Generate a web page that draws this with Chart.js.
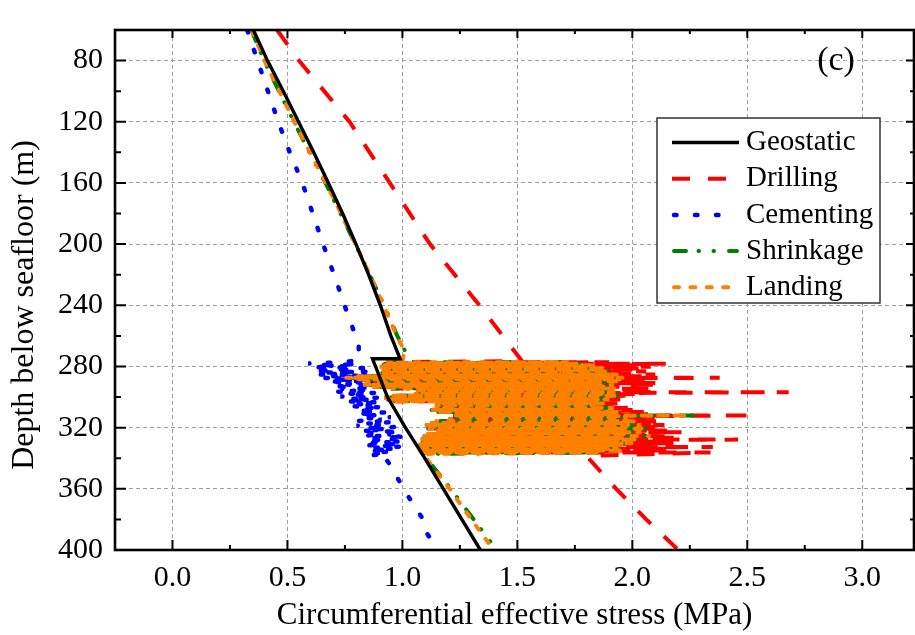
<!DOCTYPE html>
<html>
<head>
<meta charset="utf-8">
<script src="https://cdn.jsdelivr.net/npm/chart.js@4.4.0/dist/chart.umd.min.js"></script>
<style>
  html, body { margin: 0; padding: 0; background: #fff; overflow: hidden; }
  #wrap { width: 915px; height: 635px; }
</style>
</head>
<body>
<div id="wrap"><canvas id="chart" width="915" height="635"></canvas></div>
<script>
const SERIF = '"Liberation Serif", "Times New Roman", serif';
const Y_TITLE = 'Depth below seafloor (m)';

const X_TICKS = [0, 0.5, 1.0, 1.5, 2.0, 2.5, 3.0];
const X_MINOR = [0.25, 0.75, 1.25, 1.75, 2.25, 2.75];
const Y_TICKS = [80, 120, 160, 200, 240, 280, 320, 360, 400];
const Y_MINOR = [100, 140, 180, 220, 260, 300, 340, 380];

// Geostatic: smooth profile with a step at ~275 m
const GEO_DEPTH = [60, 80, 100, 120, 140, 160, 180, 200, 220, 240, 260, 275, 275, 300, 320, 337, 360, 400];
const GEO_STRESS = [0.352, 0.413, 0.482, 0.548, 0.614, 0.678, 0.740, 0.798, 0.853, 0.904, 0.950, 0.99,
  0.87, 0.935, 1.013, 1.085, 1.178, 1.339];

// upper / lower branches of the other states
const DRILL_DEPTH_TOP = [60, 80, 120, 160, 200, 240, 276.5];
const DRILL_STRESS_TOP = [0.455, 0.55, 0.77, 0.945, 1.12, 1.335, 1.52];
const DRILL_DEPTH_BOT = [338.5, 360, 380, 400];
const DRILL_STRESS_BOT = [1.80, 1.93, 2.06, 2.20];

const LAND_DEPTH_TOP = [60, 80, 100, 120, 140, 160, 180, 200, 220, 240, 260, 270, 276.2];
const LAND_STRESS_TOP = [0.345, 0.40, 0.465, 0.53, 0.598, 0.667, 0.733, 0.796, 0.858, 0.918, 0.975, 1.01, 1.00];
const LAND_DEPTH_BOT = [337.2, 360, 380, 400];
const LAND_STRESS_BOT = [1.09, 1.205, 1.30, 1.396];

const SHRINK_STRESS_TOP = [0.343, 0.398, 0.463, 0.528, 0.596, 0.665, 0.731, 0.795, 0.858, 0.92, 0.978, 1.012, 1.00];
const SHRINK_STRESS_BOT = [1.09, 1.21, 1.31, 1.41];

// hydrate layer (277-337 m): oscillating values, left/right turning points
const ZIG_DEPTH = [277.2, 278.2, 279.2, 280.2, 281.2, 282.2, 283.2, 284.2, 285.2, 286.4,
  287.4, 288.4, 289.6, 290.8, 292.0, 293.2, 294.4, 295.6, 296.8, 298.0,
  299.2, 300.4, 301.6, 302.8, 304.2, 305.6, 307.0, 308.4, 309.8, 311.2,
  312.0, 313.2, 314.4, 315.8, 317.0, 318.2, 319.4, 320.6, 321.8, 323.0,
  324.2, 325.4, 326.6, 327.8, 329.0, 330.2, 331.4, 332.6, 333.8, 335.0, 336.2];
const ZIG_LEFT = [0.93, 0.92, 0.91, 0.90, 0.92, 0.91, 0.92, 0.90, 0.93, 0.80,
  0.75, 0.79, 0.84, 0.88, 0.83, 0.87, 0.95, 1.06, 1.08, 1.05,
  0.95, 0.92, 0.93, 0.96, 1.16, 1.14, 1.16, 1.12, 1.15, 1.24,
  1.22, 1.24, 1.20, 1.14, 1.12, 1.10, 1.12, 1.11, 1.15, 1.16,
  1.10, 1.09, 1.10, 1.08, 1.09, 1.08, 1.07, 1.08, 1.06, 1.07, 1.08];
const LAND_RIGHT = [1.72, 1.78, 1.84, 1.80, 1.88, 1.84, 1.90, 1.86, 1.94, 1.88,
  1.96, 1.90, 1.95, 1.86, 1.92, 1.88, 1.93, 1.86, 1.92, 1.88,
  1.94, 1.84, 1.90, 1.82, 1.88, 1.84, 1.92, 1.86, 1.94, 1.90,
  2.24, 1.98, 1.92, 2.02, 1.96, 2.04, 1.98, 2.06, 1.96, 2.04,
  1.98, 2.08, 1.96, 2.02, 1.94, 2.00, 1.96, 1.94, 1.90, 1.96, 1.86];
const SHRINK_RIGHT = [1.70, 1.78, 1.82, 1.80, 1.86, 1.84, 1.90, 1.86, 1.92, 1.88,
  1.96, 1.90, 1.94, 1.86, 1.92, 1.88, 1.92, 1.86, 1.92, 1.88,
  1.94, 1.84, 1.90, 1.82, 1.88, 1.84, 1.92, 1.86, 1.94, 1.90,
  2.27, 1.98, 1.92, 2.02, 1.96, 2.04, 1.98, 2.06, 1.96, 2.04,
  1.98, 2.08, 1.96, 2.02, 1.94, 2.00, 1.96, 1.94, 1.90, 1.96, 1.86];
const DRILL_RIGHT = [1.90, 2.15, 2.02, 2.08, 2.05, 2.00, 2.06, 2.02, 2.10, 2.05,
  2.38, 2.08, 2.04, 2.10, 2.12, 2.05, 2.09, 2.08, 2.68, 2.02,
  1.97, 1.95, 1.98, 1.94, 1.96, 1.93, 1.98, 2.00, 2.05, 2.08,
  2.53, 2.10, 2.06, 2.12, 2.08, 2.14, 2.10, 2.12, 2.15, 2.22,
  2.12, 2.16, 2.18, 2.46, 2.15, 2.20, 2.12, 2.35, 2.18, 2.14, 2.34];

// Cementing: full profile, scattered inside the layer
const CEM_DEPTH = [60, 80, 100, 120, 140, 160, 180, 200, 226, 240, 253, 267, 276,
  277.4, 278.0, 278.6, 279.2, 279.8, 280.4, 281.0, 281.6, 282.2, 282.8,
  283.4, 284.0, 284.6, 285.2, 285.8, 286.4, 287.0, 287.6, 288.2, 288.8,
  289.4, 290.0, 290.8, 291.6, 292.4, 293.2, 294.0, 294.8, 295.6, 296.4,
  297.2, 298.0, 298.8, 299.6, 300.4, 301.2, 302.0, 302.8, 303.6, 304.4,
  305.2, 306.0, 306.8, 307.6, 308.4, 309.2, 310.0, 310.8, 311.6, 312.4,
  313.2, 314.0, 314.8, 315.6, 316.4, 317.2, 318.0, 318.8, 319.6, 320.4,
  321.2, 322.0, 322.8, 323.6, 324.4, 325.2, 326.0, 326.8, 327.6, 328.4,
  329.2, 330.0, 330.8, 331.6, 332.4, 333.2, 334.0, 334.8, 335.6, 336.4,
  337.2, 338.0, 338.8,
  345, 352, 366, 380, 390, 400];
const CEM_STRESS = [0.325, 0.37, 0.415, 0.46, 0.51, 0.565, 0.61, 0.655, 0.717, 0.748, 0.78, 0.81, 0.81,
  0.72, 0.59, 0.81, 0.63, 0.76, 0.60, 0.83, 0.65, 0.79, 0.61,
  0.85, 0.67, 0.77, 0.63, 0.86, 0.69, 0.81, 0.65, 0.87, 0.71,
  0.83, 0.67, 0.88, 0.72, 0.84, 0.69, 0.87, 0.73, 0.85, 0.71,
  0.89, 0.75, 0.86, 0.73, 0.90, 0.77, 0.87, 0.75, 0.91, 0.79,
  0.88, 0.78, 0.92, 0.81, 0.89, 0.80, 0.93, 0.83, 0.90, 0.82,
  0.95, 0.84, 0.91, 0.81, 0.96, 0.85, 0.92, 0.80, 0.97, 0.84,
  0.94, 0.82, 0.99, 0.86, 0.95, 0.83, 1.02, 0.87, 0.97, 0.84,
  1.00, 0.86, 0.96, 0.85, 1.00, 0.87, 0.97, 0.85, 0.95, 0.86,
  0.93, 0.87, 0.92,
  0.95, 0.975, 1.03, 1.09, 1.11, 1.16];

function pts(depth, stress) {
  return depth.map((d, i) => ({ x: stress[i], y: d }));
}
function zig(left, right) {
  const out = [];
  ZIG_DEPTH.forEach((d, i) => {
    out.push({ x: left[i], y: d }, { x: right[i], y: d });
  });
  return out;
}

const datasets = [
  {
    label: 'Geostatic',
    data: pts(GEO_DEPTH, GEO_STRESS),
    borderColor: '#000000', borderWidth: 3.4, borderDash: [],
    borderCapStyle: 'butt', order: 0,
  },
  {
    label: 'Drilling',
    data: [...pts(DRILL_DEPTH_TOP, DRILL_STRESS_TOP), ...zig(ZIG_LEFT, DRILL_RIGHT), ...pts(DRILL_DEPTH_BOT, DRILL_STRESS_BOT)],
    borderColor: '#ff0000', borderWidth: 4, borderDash: [18, 18],
    borderCapStyle: 'butt', order: 4,
  },
  {
    label: 'Cementing',
    data: pts(CEM_DEPTH, CEM_STRESS),
    borderColor: '#0000ff', borderWidth: 4.5, borderDash: [2.5, 18.5],
    borderCapStyle: 'round', order: 3,
  },
  {
    label: 'Shrinkage',
    data: [...pts(LAND_DEPTH_TOP, SHRINK_STRESS_TOP), ...zig(ZIG_LEFT, SHRINK_RIGHT), ...pts(LAND_DEPTH_BOT, SHRINK_STRESS_BOT)],
    borderColor: '#008000', borderWidth: 4, borderDash: [12, 12.5, 0.5, 14.5, 0.5, 15],
    borderCapStyle: 'round', order: 2,
  },
  {
    label: 'Landing',
    data: [...pts(LAND_DEPTH_TOP, LAND_STRESS_TOP), ...zig(ZIG_LEFT, LAND_RIGHT), ...pts(LAND_DEPTH_BOT, LAND_STRESS_BOT)],
    borderColor: '#ff8000', borderWidth: 4, borderDash: [5, 11.4],
    borderCapStyle: 'round', order: 1,
  },
];

// frame with inward ticks, legend box, y title and panel tag
const framePlugin = {
  id: 'framePlugin',
  afterDraw(chart) {
    const { ctx, chartArea: a, scales: { x, y } } = chart;
    ctx.save();
    ctx.strokeStyle = '#000';
    ctx.lineWidth = 2;
    ctx.setLineDash([]);
    ctx.beginPath();
    const xt = (vals, len, lenTop) => vals.forEach(v => {
      const px = x.getPixelForValue(v);
      ctx.moveTo(px, a.bottom); ctx.lineTo(px, a.bottom - len);
      ctx.moveTo(px, a.top); ctx.lineTo(px, a.top + lenTop);
    });
    const yt = (vals, len, lenRight) => vals.forEach(v => {
      const py = y.getPixelForValue(v);
      ctx.moveTo(a.left, py); ctx.lineTo(a.left + len, py);
      ctx.moveTo(a.right, py); ctx.lineTo(a.right - lenRight, py);
    });
    xt(X_TICKS, 10, 8);
    xt(X_MINOR, 5, 4);
    yt(Y_TICKS, 11, 8);
    yt(Y_MINOR, 6, 4);
    ctx.stroke();
    ctx.lineWidth = 2.6;
    ctx.strokeRect(a.left, a.top, a.right - a.left, a.bottom - a.top);

    // legend
    ctx.fillStyle = '#fff';
    ctx.fillRect(657, 118, 223, 185);
    ctx.lineWidth = 1.5;
    ctx.strokeStyle = '#333';
    ctx.strokeRect(657, 118, 223, 185);
    ctx.font = '29px ' + SERIF;
    ctx.textBaseline = 'middle';
    ctx.textAlign = 'left';
    chart.data.datasets.forEach((ds, i) => {
      const ly = 142.5 + i * 36.2;
      const round = ds.borderCapStyle === 'round';
      ctx.beginPath();
      ctx.strokeStyle = ds.borderColor;
      ctx.lineWidth = ds.borderWidth;
      ctx.lineCap = ds.borderCapStyle;
      ctx.setLineDash(ds.borderDash);
      ctx.moveTo(round ? 674 : 672, ly);
      ctx.lineTo(round ? 737 : 739, ly);
      ctx.stroke();
      ctx.setLineDash([]);
      ctx.fillStyle = '#000';
      ctx.fillText(ds.label, 746, ly);
    });

    // y axis title
    ctx.save();
    ctx.translate(25, 305);
    ctx.rotate(-Math.PI / 2);
    ctx.font = '32px ' + SERIF;
    ctx.textAlign = 'center';
    ctx.textBaseline = 'middle';
    ctx.fillText(Y_TITLE, 0, 0);
    ctx.restore();

    ctx.font = '34px ' + SERIF;
    ctx.fillStyle = '#000';
    ctx.textAlign = 'center';
    ctx.textBaseline = 'alphabetic';
    ctx.fillText('(c)', 836, 70);
    ctx.restore();
  }
};

new Chart(document.getElementById('chart'), {
  type: 'line',
  data: { datasets },
  options: {
    responsive: false,
    animation: false,
    layout: { padding: { top: 7, right: 1, left: 0, bottom: 0 } },
    elements: { line: { tension: 0, fill: false }, point: { radius: 0 } },
    plugins: { legend: { display: false }, tooltip: { enabled: false } },
    scales: {
      x: {
        type: 'linear', min: -0.25, max: 3.225,
        afterBuildTicks: s => { s.ticks = X_TICKS.map(v => ({ value: v })); },
        afterFit: s => { s.height = 85; },
        grid: { color: '#a0a0a0', lineWidth: 1, drawTicks: false },
        border: { display: false, dash: [4, 3] },
        ticks: { color: '#000', font: { family: SERIF, size: 30 }, padding: 10, maxRotation: 0,
          callback: v => Number(v).toFixed(1) },
        title: { display: true, text: 'Circumferential effective stress (MPa)', color: '#000',
          font: { family: SERIF, size: 31 }, padding: { top: 0, bottom: 1 } },
      },
      y: {
        type: 'linear', reverse: true, min: 60, max: 400,
        afterBuildTicks: s => { s.ticks = Y_TICKS.map(v => ({ value: v })); },
        afterFit: s => { s.width = 115; },
        grid: { color: '#a0a0a0', lineWidth: 1, drawTicks: false },
        border: { display: false, dash: [4, 3] },
        ticks: { color: '#000', font: { family: SERIF, size: 30 }, padding: 12 },
        title: { display: false },
      },
    },
  },
  plugins: [framePlugin],
});
</script>
</body>
</html>
